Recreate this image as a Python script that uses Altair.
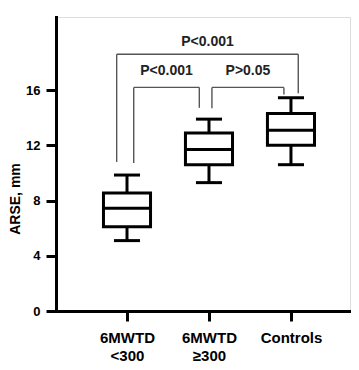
import altair as alt
import pandas as pd

# ---- data ----
groups = ["6MWTD\n<300", "6MWTD\n≥300", "Controls"]
positions = [1, 2, 3]
w_low = [5.1, 9.3, 10.6]
q1 = [6.1, 10.6, 12.0]
median = [7.45, 11.7, 13.1]
q3 = [8.55, 12.9, 14.3]
w_high = [9.85, 13.9, 15.45]

# significance brackets
br_x1 = [0.874, 1.082, 2.036]
br_x2 = [3.089, 1.882, 2.914]
br_top = [18.6, 16.2, 16.2]
br_left_end = [10.8, 10.73, 14.68]
br_right_end = [15.77, 14.72, 15.69]
br_label = ["P<0.001", "P<0.001", "P>0.05"]
br_label_y = [19.5, 17.38, 17.38]

y_ticks = [0, 4, 8, 12, 16]

FONT = "Liberation Sans"
BW = 0.287   # half box width (x units)
CW = 0.159   # half cap width

box_df = pd.DataFrame({
    "pos": positions, "grp": groups, "lo": w_low, "q1": q1,
    "med": median, "q3": q3, "hi": w_high,
})

seg_rows = []
for a, b, t, l, r in zip(br_x1, br_x2, br_top, br_left_end, br_right_end):
    seg_rows.append({"x": a, "x2": b, "y": t, "y2": t})
    seg_rows.append({"x": a, "x2": a, "y": t, "y2": l})
    seg_rows.append({"x": b, "x2": b, "y": t, "y2": r})
seg_df = pd.DataFrame(seg_rows)

lab_df = pd.DataFrame({
    "x": [(a + b) / 2 for a, b in zip(br_x1, br_x2)],
    "y": br_label_y,
    "text": br_label,
})

xscale = alt.Scale(domain=[0.134, 3.72], nice=False, zero=False)
yscale = alt.Scale(domain=[0, 21.3], nice=False, zero=False)

# label expression for x axis (multi-line)
def js_lines(s):
    parts = s.split("\n")
    if len(parts) == 1:
        return "'" + parts[0] + "'"
    return "[" + ", ".join("'" + p + "'" for p in parts) + "]"

expr = js_lines(groups[2])
for p, g in reversed(list(zip(positions[:2], groups[:2]))):
    expr = f"datum.value == {p} ? {js_lines(g)} : ({expr})"

x_axis = alt.Axis(
    values=positions, labelExpr=expr, title=None, grid=False,
    domainColor="black", domainWidth=3, domainCap="square",
    tickColor="black", tickWidth=3, tickSize=10,
    labelFont=FONT, labelFontSize=15, labelFontWeight="bold", labelColor="black",
    labelPadding=9, labelLineHeight=18, labelBaseline="top",
)
y_axis = alt.Axis(
    values=y_ticks, title="ARSE, mm", grid=False,
    domainColor="black", domainWidth=3, domainCap="square",
    tickColor="black", tickWidth=3, tickSize=10,
    labelFont=FONT, labelFontSize=13, labelFontWeight="bold", labelColor="black",
    labelPadding=6,
    titleFont=FONT, titleFontSize=14, titleFontWeight="bold", titleColor="black",
    titleX=-40.5, titleY=181.5, titleAngle=270, titleBaseline="middle", titleAlign="center",
)

base = alt.Chart(box_df)

whisk = base.mark_rule(color="black", strokeWidth=3).encode(
    x=alt.X("pos:Q", scale=xscale, axis=x_axis),
    y=alt.Y("lo:Q", scale=yscale, axis=y_axis),
    y2="hi:Q",
)

caps_lo = base.transform_calculate(
    xa=f"datum.pos - {CW}", xb=f"datum.pos + {CW}"
).mark_rule(color="black", strokeWidth=3).encode(
    x=alt.X("xa:Q", scale=xscale), x2="xb:Q", y=alt.Y("lo:Q", scale=yscale)
)
caps_hi = base.transform_calculate(
    xa=f"datum.pos - {CW}", xb=f"datum.pos + {CW}"
).mark_rule(color="black", strokeWidth=3).encode(
    x=alt.X("xa:Q", scale=xscale), x2="xb:Q", y=alt.Y("hi:Q", scale=yscale)
)

box = base.transform_calculate(
    xa=f"datum.pos - {BW}", xb=f"datum.pos + {BW}"
).mark_rect(fill="white", stroke="black", strokeWidth=3).encode(
    x=alt.X("xa:Q", scale=xscale), x2="xb:Q",
    y=alt.Y("q1:Q", scale=yscale), y2="q3:Q",
)

med = base.transform_calculate(
    xa=f"datum.pos - {BW}", xb=f"datum.pos + {BW}"
).mark_rule(color="black", strokeWidth=3).encode(
    x=alt.X("xa:Q", scale=xscale), x2="xb:Q", y=alt.Y("med:Q", scale=yscale)
)

segs = alt.Chart(seg_df).mark_rule(color="#555555", strokeWidth=1.4).encode(
    x=alt.X("x:Q", scale=xscale), x2="x2:Q",
    y=alt.Y("y:Q", scale=yscale), y2="y2:Q",
)

labs = alt.Chart(lab_df).mark_text(
    font=FONT, fontSize=14, fontWeight="bold", color="#222222", baseline="middle"
).encode(
    x=alt.X("x:Q", scale=xscale), y=alt.Y("y:Q", scale=yscale), text="text:N"
)

chart = alt.layer(whisk, caps_lo, caps_hi, box, med, segs, labs).properties(
    width=294, height=294,
    autosize=alt.AutoSizeParams(type="none"),
    padding={"left": 48, "top": 9, "right": 1, "bottom": 56},
).configure_view(stroke=None).configure(background="white")

chart.save("out.html", embed_options={"renderer": "svg", "actions": False})
